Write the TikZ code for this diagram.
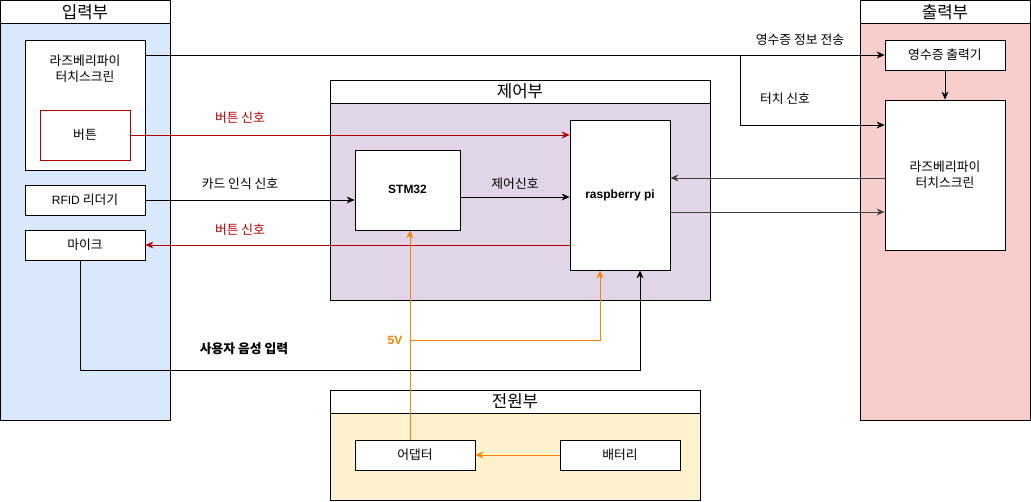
\documentclass[tikz,border=0pt]{standalone}
\usepackage{fontspec}
\setmainfont{Noto Sans CJK KR}
\newfontfamily\lat{Liberation Sans}
\usetikzlibrary{arrows.meta,calc}
\definecolor{inblue}{HTML}{DAE8FC}
\definecolor{ctlpurple}{HTML}{E1D5E7}
\definecolor{outred}{HTML}{F8CECC}
\definecolor{pwryellow}{HTML}{FFF2CC}
\definecolor{sigred}{HTML}{B20000}
\definecolor{pwrorange}{HTML}{FF8000}
\definecolor{grayline}{HTML}{404040}
\tikzset{
  box/.style={draw=black, fill=white, line width=0.8pt, rectangle, inner sep=0pt, align=center, font=\fontsize{12.8}{16}\selectfont},
  container/.style={draw=black, line width=0.8pt},
  header/.style={draw=black, fill=white, line width=0.8pt},
  htext/.style={font=\fontsize{16.8}{18}\selectfont},
  lbl/.style={font=\fontsize{12.8}{14}\selectfont, inner sep=0pt},
  arr/.style={draw=black, line width=0.8pt, -{Stealth[length=8pt,width=7pt]}},
  grarr/.style={draw=grayline, line width=0.9pt, -{Stealth[length=8pt,width=7pt]}},
  redarr/.style={draw=sigred, line width=0.8pt, -{Stealth[length=8pt,width=7pt]}},
  orarr/.style={draw=pwrorange, line width=0.8pt, -{Stealth[length=8pt,width=7pt]}},
}
\begin{document}
\begin{tikzpicture}[x=1pt,y=-1pt]
\useasboundingbox (0,0) rectangle (1031,502);
% containers
\fill[inblue] (0.5,23) rectangle (170,420);
\draw[container] (0.5,0.5) rectangle (170,420);
\draw[header] (0.5,0.5) rectangle (170,23);
\node[htext] (hin) at (85,12) {입력부};

\fill[ctlpurple] (330,103) rectangle (710,300);
\draw[container] (330,80) rectangle (710,300);
\draw[header] (330,80) rectangle (710,103);
\node[htext] (hctl) at (520,91.5) {제어부};

\fill[outred] (860,23) rectangle (1030.5,420);
\draw[container] (860,0.5) rectangle (1030.5,420);
\draw[header] (860,0.5) rectangle (1030.5,23);
\node[htext] (hout) at (945,12) {출력부};

\fill[pwryellow] (330,413) rectangle (700,500);
\draw[container] (330,390) rectangle (700,500);
\draw[header] (330,390) rectangle (700,413);
\node[htext] (hpwr) at (515,401.5) {전원부};

% input nodes
\node[box, minimum width=120pt, minimum height=130pt] (tin) at (85,105) {};
\node[font=\fontsize{12.8}{16}\selectfont, align=center] (tintxt) at (85,69) {라즈베리파이\\터치스크린};
\node[box, draw=sigred, minimum width=90pt, minimum height=50pt] (btn) at (85,135) {버튼};
\node[box, minimum width=120pt, minimum height=30pt] (rfid) at (85,200) {{\lat\fontsize{12}{14}\selectfont RFID} 리더기};
\node[box, minimum width=120pt, minimum height=30pt] (mic) at (85,245) {마이크};

% control nodes
\node[box, minimum width=105pt, minimum height=80pt] (stm) at (407.5,190) {};
\node[font=\lat\bfseries\fontsize{12}{14}\selectfont] (stmtxt) at (407.5,189) {STM32};
\node[box, minimum width=100pt, minimum height=150pt, font=\lat\bfseries\fontsize{12}{14}\selectfont] (rpi) at (620,195) {raspberry pi};

% output nodes
\node[box, minimum width=120pt, minimum height=30pt] (rcpt) at (945,55) {영수증 출력기};
\node[box, minimum width=120pt, minimum height=150pt] (tout) at (945,175) {라즈베리파이\\터치스크린};

% power nodes
\node[box, minimum width=120pt, minimum height=30pt] (adpt) at (415,455) {어댑터};
\node[box, minimum width=120pt, minimum height=30pt] (batt) at (620,455) {배터리};

% connectors
\draw[redarr] (btn.east) -- (btn.east -| rpi.west);
\node[lbl, text=sigred] (l1) at (240,118) {버튼 신호};

\draw[arr] (rfid.east) -- (rfid.east -| stm.west);
\node[lbl] (l2) at (240,184) {카드 인식 신호};

\draw[redarr] (rpi.west |- mic.east) -- (mic.east);
\node[lbl, text=sigred] (l3) at (240,230) {버튼 신호};

\draw[arr] ([yshift=-7pt]stm.east) -- ([yshift=-7pt]stm.east -| rpi.west);
\node[lbl] (l4) at (515,184) {제어신호};

\draw[grarr] ([yshift=-3pt]tout.west) -- ([yshift=-3pt]tout.west -| rpi.east);
\draw[grarr] ([yshift=-17pt]rpi.east) -- ([yshift=-17pt]rpi.east -| tout.west);

\draw[arr] (tin.east |- rcpt.west) -- (rcpt.west);
\node[lbl] (l5) at (800,40) {영수증 정보 전송};
\coordinate (br) at (740,55);
\draw[arr] (br) |- ([yshift=50pt]tout.west);
\node[lbl] (l6) at (785,99) {터치 신호};

\draw[arr] (rcpt.south) -- (tout.north);

\draw[orarr] ([xshift=-5pt]adpt.north) -- ([xshift=-5pt]adpt.north |- stm.south);
\coordinate (v5) at (410,340);
\draw[orarr] (v5) -| ([xshift=-20pt]rpi.south);
\node[lbl, text=pwrorange, font=\lat\bfseries\fontsize{12}{14}\selectfont] (l7) at (395,340) {5V};

\draw[orarr] (batt.west) -- (adpt.east);

\draw[arr] ([xshift=-5pt]mic.south) -- ++(0,110) -| ([xshift=20pt]rpi.south);
\node[lbl, font=\bfseries\fontsize{12.8}{14}\selectfont] (l8) at (244,349) {사용자 음성 입력};
\end{tikzpicture}
\end{document}
